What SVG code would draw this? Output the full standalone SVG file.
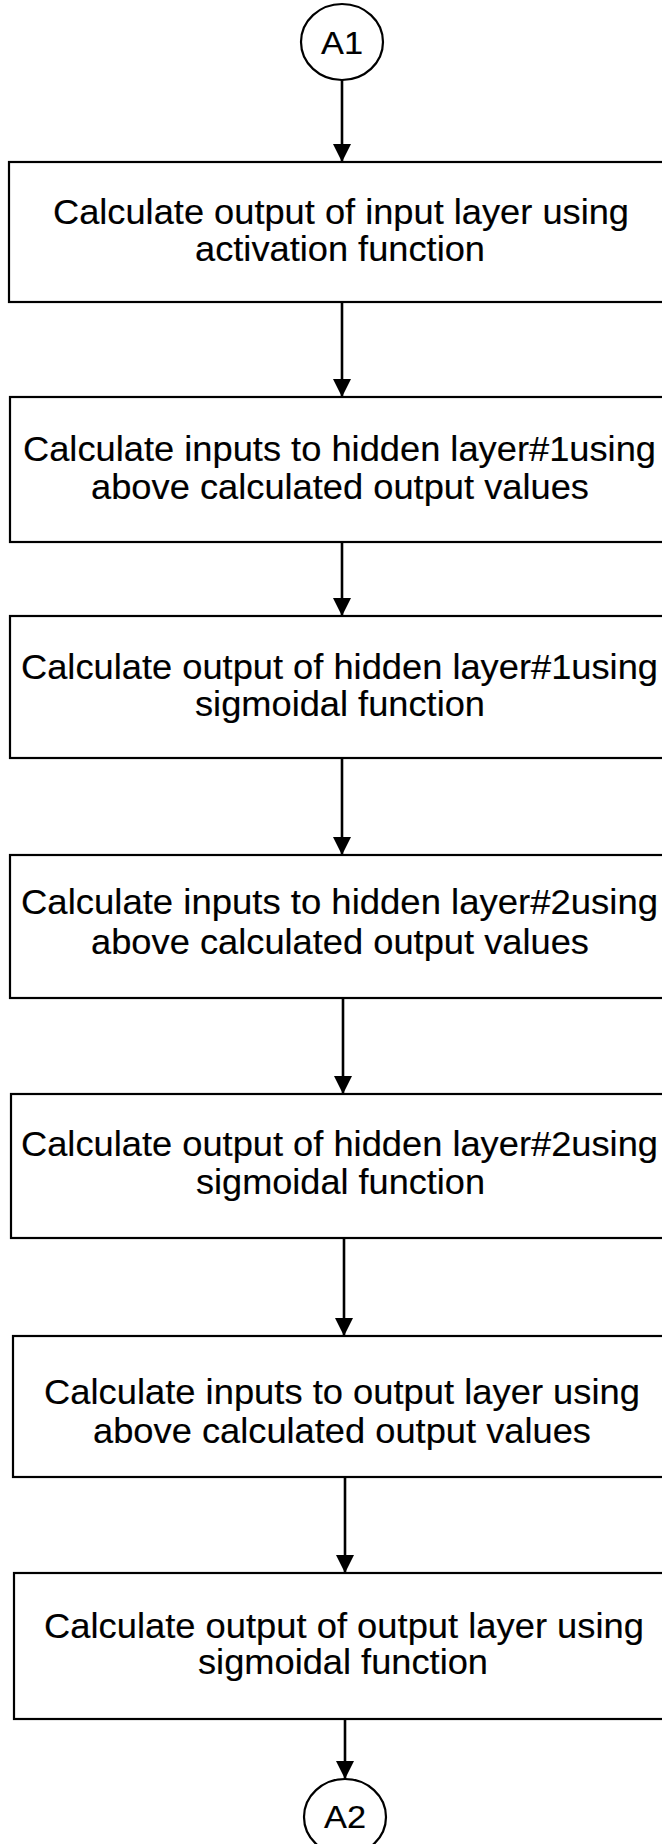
<svg xmlns="http://www.w3.org/2000/svg" width="662" height="1844" viewBox="0 0 662 1844">
  <style>
    .box { fill: #ffffff; stroke: #000000; stroke-width: 2.2; }
    .conn { fill: none; stroke: #000000; stroke-width: 2.6; }
    .circ { fill: #ffffff; stroke: #000000; stroke-width: 2.2; }
    .t { font-family: "Liberation Sans", Arial, sans-serif; font-size: 35px; fill: #000000; stroke: #000000; stroke-width: 0.15; }
    .ct { font-family: "Liberation Sans", Arial, sans-serif; font-size: 32px; fill: #000000; stroke: #000000; stroke-width: 0.15; text-anchor: middle; }
  </style>
  <defs>
    <marker id="arrow" viewBox="0 0 18 18" refX="18" refY="9" markerWidth="18" markerHeight="18" markerUnits="userSpaceOnUse" orient="auto">
      <path d="M0,0 L18,9 L0,18 z" fill="#000000"/>
    </marker>
  </defs>
  <rect x="0" y="0" width="662" height="1844" fill="#ffffff"/>

  <g id="connectors">
    <line class="conn" x1="342" y1="80" x2="342" y2="162" marker-end="url(#arrow)"/>
    <line class="conn" x1="342" y1="302" x2="342" y2="397" marker-end="url(#arrow)"/>
    <line class="conn" x1="342" y1="542" x2="342" y2="616" marker-end="url(#arrow)"/>
    <line class="conn" x1="342" y1="758" x2="342" y2="855" marker-end="url(#arrow)"/>
    <line class="conn" x1="343" y1="998" x2="343" y2="1094" marker-end="url(#arrow)"/>
    <line class="conn" x1="344" y1="1238" x2="344" y2="1336" marker-end="url(#arrow)"/>
    <line class="conn" x1="345" y1="1477" x2="345" y2="1573" marker-end="url(#arrow)"/>
    <line class="conn" x1="345" y1="1719" x2="345" y2="1779" marker-end="url(#arrow)"/>
  </g>

  <g id="A1">
    <ellipse class="circ" cx="342" cy="42" rx="41" ry="38"/>
    <text class="ct" x="342" y="54" textLength="42" lengthAdjust="spacingAndGlyphs">A1</text>
  </g>

  <g id="step1">
    <rect class="box" x="9" y="162" width="680" height="140"/>
    <text class="t" x="53" y="224" textLength="576" lengthAdjust="spacingAndGlyphs">Calculate output of input layer using</text>
    <text class="t" x="195" y="261" textLength="290" lengthAdjust="spacingAndGlyphs">activation function</text>
  </g>

  <g id="step2">
    <rect class="box" x="10" y="397" width="680" height="145"/>
    <text class="t" x="23" y="461" textLength="633" lengthAdjust="spacingAndGlyphs">Calculate inputs to hidden layer#1using</text>
    <text class="t" x="91" y="499" textLength="498" lengthAdjust="spacingAndGlyphs">above calculated output values</text>
  </g>

  <g id="step3">
    <rect class="box" x="10" y="616" width="680" height="142"/>
    <text class="t" x="21" y="679" textLength="637" lengthAdjust="spacingAndGlyphs">Calculate output of hidden layer#1using</text>
    <text class="t" x="195" y="716" textLength="290" lengthAdjust="spacingAndGlyphs">sigmoidal function</text>
  </g>

  <g id="step4">
    <rect class="box" x="10" y="855" width="680" height="143"/>
    <text class="t" x="21" y="914" textLength="637" lengthAdjust="spacingAndGlyphs">Calculate inputs to hidden layer#2using</text>
    <text class="t" x="91" y="954" textLength="498" lengthAdjust="spacingAndGlyphs">above calculated output values</text>
  </g>

  <g id="step5">
    <rect class="box" x="11" y="1094" width="680" height="144"/>
    <text class="t" x="21" y="1156" textLength="637" lengthAdjust="spacingAndGlyphs">Calculate output of hidden layer#2using</text>
    <text class="t" x="196" y="1194" textLength="289" lengthAdjust="spacingAndGlyphs">sigmoidal function</text>
  </g>

  <g id="step6">
    <rect class="box" x="13" y="1336" width="680" height="141"/>
    <text class="t" x="44" y="1404" textLength="596" lengthAdjust="spacingAndGlyphs">Calculate inputs to output layer using</text>
    <text class="t" x="93" y="1443" textLength="498" lengthAdjust="spacingAndGlyphs">above calculated output values</text>
  </g>

  <g id="step7">
    <rect class="box" x="14" y="1573" width="680" height="146"/>
    <text class="t" x="44" y="1638" textLength="600" lengthAdjust="spacingAndGlyphs">Calculate output of output layer using</text>
    <text class="t" x="198" y="1674" textLength="290" lengthAdjust="spacingAndGlyphs">sigmoidal function</text>
  </g>

  <g id="A2">
    <ellipse class="circ" cx="345" cy="1817" rx="41" ry="38"/>
    <text class="ct" x="345" y="1828" textLength="42" lengthAdjust="spacingAndGlyphs">A2</text>
  </g>
</svg>
